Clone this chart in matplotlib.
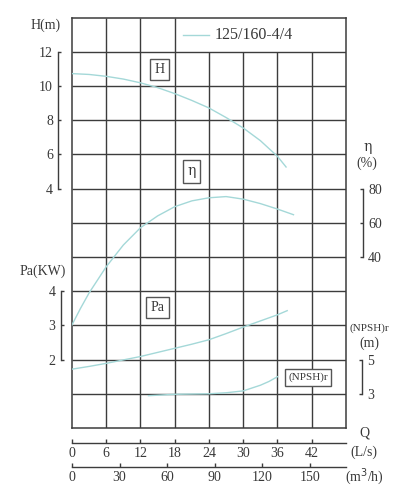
import matplotlib
matplotlib.use("Agg")
import matplotlib.pyplot as plt

plt.rcParams['font.family'] = ['Liberation Serif', 'DejaVu Serif']

# 读图得到的数据 (Q 单位 L/s)
q_h = [0, 3, 6, 9, 12, 15, 18, 21, 24, 27, 30, 33, 36, 37.5]
h_m = [10.72, 10.67, 10.56, 10.4, 10.18, 9.9, 9.55, 9.15, 8.71, 8.15, 7.54, 6.8, 5.88, 5.26]

q_eta = [0, 1.5, 3, 6, 9, 12, 15, 18, 21, 24, 27, 30, 33, 36, 38.8]
eta_pct = [0.3, 10, 19, 34.3, 47, 57.1, 64, 69.4, 72.8, 74.6, 75.3, 73.8, 71.2, 68, 64.7]

q_pa = [0, 3, 6, 9, 12, 15, 18, 21, 24, 27, 30, 33, 36, 37.7]
pa_kw = [1.72, 1.80, 1.89, 1.99, 2.09, 2.21, 2.33, 2.45, 2.58, 2.76, 2.95, 3.13, 3.31, 3.43]

q_npsh = [13.4, 18, 24, 27, 30, 33, 34.5, 36]
npsh_m = [2.89, 2.97, 3.0, 3.06, 3.17, 3.5, 3.72, 4.0]

q_ticks = [0, 6, 12, 18, 24, 30, 36, 42]
m3h_ticks = [0, 30, 60, 90, 120, 150]
h_ticks = [4, 6, 8, 10, 12]
eta_ticks = [40, 60, 80]
pa_ticks = [2, 3, 4]
npsh_ticks = [3, 5]
model = "125/160-4/4"

W, H = 406, 500
grid_c = '#3c3c3c'
text_c = '#383838'
curve_c = '#a4d8d8'


def px(x, y):
    return x / W, 1 - y / H


fig = plt.figure(figsize=(W / 100, H / 100), dpi=100)
ax = fig.add_axes([72 / W, 1 - 428 / H, 274 / W, 410.5 / H])
ax.set_xlim(0, 48)
ax.set_ylim(0, 12)
ax.set_xticks([])
ax.set_yticks([])
for s in ax.spines.values():
    s.set_color(grid_c)
    s.set_linewidth(1.1)
# 网格线 (顶行只在左侧有竖线)
for x in range(6, 48, 6):
    ax.vlines(x, 0, 12 if x <= 18 else 11, color=grid_c, lw=1.0)
ax.hlines(range(1, 12), 0, 48, color=grid_c, lw=1.0)

# 图例
ax.plot([19.45, 24.05], [11.5, 11.5], color=curve_c, lw=1.0)
ax.text(25.0, 11.5, model, fontsize=11.5, color=text_c, va='center', ha='left')


def side_axis(spine, lim, ticks, outward, bounds):
    a = ax.twinx()
    a.set_ylim(*lim)
    for k, s in a.spines.items():
        s.set_visible(k == spine)
    sp = a.spines[spine]
    sp.set_position(('outward', outward))
    sp.set_bounds(*bounds)
    sp.set_color(grid_c)
    sp.set_linewidth(1.0)
    a.yaxis.set_ticks_position(spine)
    a.set_yticks(ticks)
    a.tick_params(direction='in', length=2.4, width=1.0, color=grid_c,
                  labelsize=10, labelcolor=text_c, pad=3.8)
    return a


axH = side_axis('left', (-10, 14), h_ticks, 9.9, (4, 12))
axEta = side_axis('right', (-60, 180), eta_ticks, 12.2, (40, 80))
axPa = side_axis('left', (0, 12), pa_ticks, 8.1, (2, 4))
axN = side_axis('right', (1, 25), npsh_ticks, 11.5, (3, 5))

axH.plot(q_h, h_m, color=curve_c, lw=1.0)
axEta.plot(q_eta, eta_pct, color=curve_c, lw=1.0)
axPa.plot(q_pa, pa_kw, color=curve_c, lw=1.0)
axN.plot(q_npsh, npsh_m, color=curve_c, lw=1.0)


def bottom_axis(lim, ticks, outward):
    a = ax.twiny()
    a.set_xlim(*lim)
    for k, s in a.spines.items():
        s.set_visible(k == 'bottom')
    sp = a.spines['bottom']
    sp.set_position(('outward', outward))
    sp.set_color(grid_c)
    sp.set_linewidth(1.0)
    a.xaxis.set_ticks_position('bottom')
    a.set_xticks(ticks)
    a.tick_params(direction='in', length=2.6, width=1.0, color=grid_c,
                  labelsize=10, labelcolor=text_c, pad=3.0)
    a.set_yticks([])
    return a


bottom_axis((0, 48), q_ticks, 10.6)
bottom_axis((0, 48 * 3.6), m3h_ticks, 28.3)

# 曲线名称框
box = dict(boxstyle='square,pad=0.3', facecolor='white', edgecolor='#555555', lw=1.0)
ax.text(15.33, 10.48, "H", fontsize=10, color=text_c, ha='center', va='center', bbox=box)
ax.text(20.9, 7.5, "η", fontsize=10, color=text_c, ha='center', va='center', bbox=box,
        family=['DejaVu Serif'])
ax.text(14.98, 3.53, "Pa", fontsize=10, color=text_c, ha='center', va='center', bbox=box)
ax.text(41.35, 1.48, "(NPSH)r", fontsize=8, color=text_c, ha='center', va='center', bbox=box)

# 轴标题
fig.text(*px(46, 25), "H(m)", fontsize=10, color=text_c, ha='center', va='center')
fig.text(*px(43, 271), "Pa(KW)", fontsize=10, color=text_c, ha='center', va='center')
fig.text(*px(368, 147), "η", fontsize=10, color=text_c, ha='center', va='center',
         family=['DejaVu Serif'])
fig.text(*px(367, 163), "(%)", fontsize=10, color=text_c, ha='center', va='center')
fig.text(*px(369, 328), "(NPSH)r", fontsize=8, color=text_c, ha='center', va='center')
fig.text(*px(369, 343), "(m)", fontsize=10, color=text_c, ha='center', va='center')
fig.text(*px(364, 433), "Q", fontsize=10, color=text_c, ha='center', va='center')
fig.text(*px(364, 452), "(L/s)", fontsize=10, color=text_c, ha='center', va='center')
fig.text(*px(364, 477), "(m$^3$/h)", fontsize=10, color=text_c, ha='center', va='center')

fig.savefig('out.png', dpi=100, facecolor='white')
